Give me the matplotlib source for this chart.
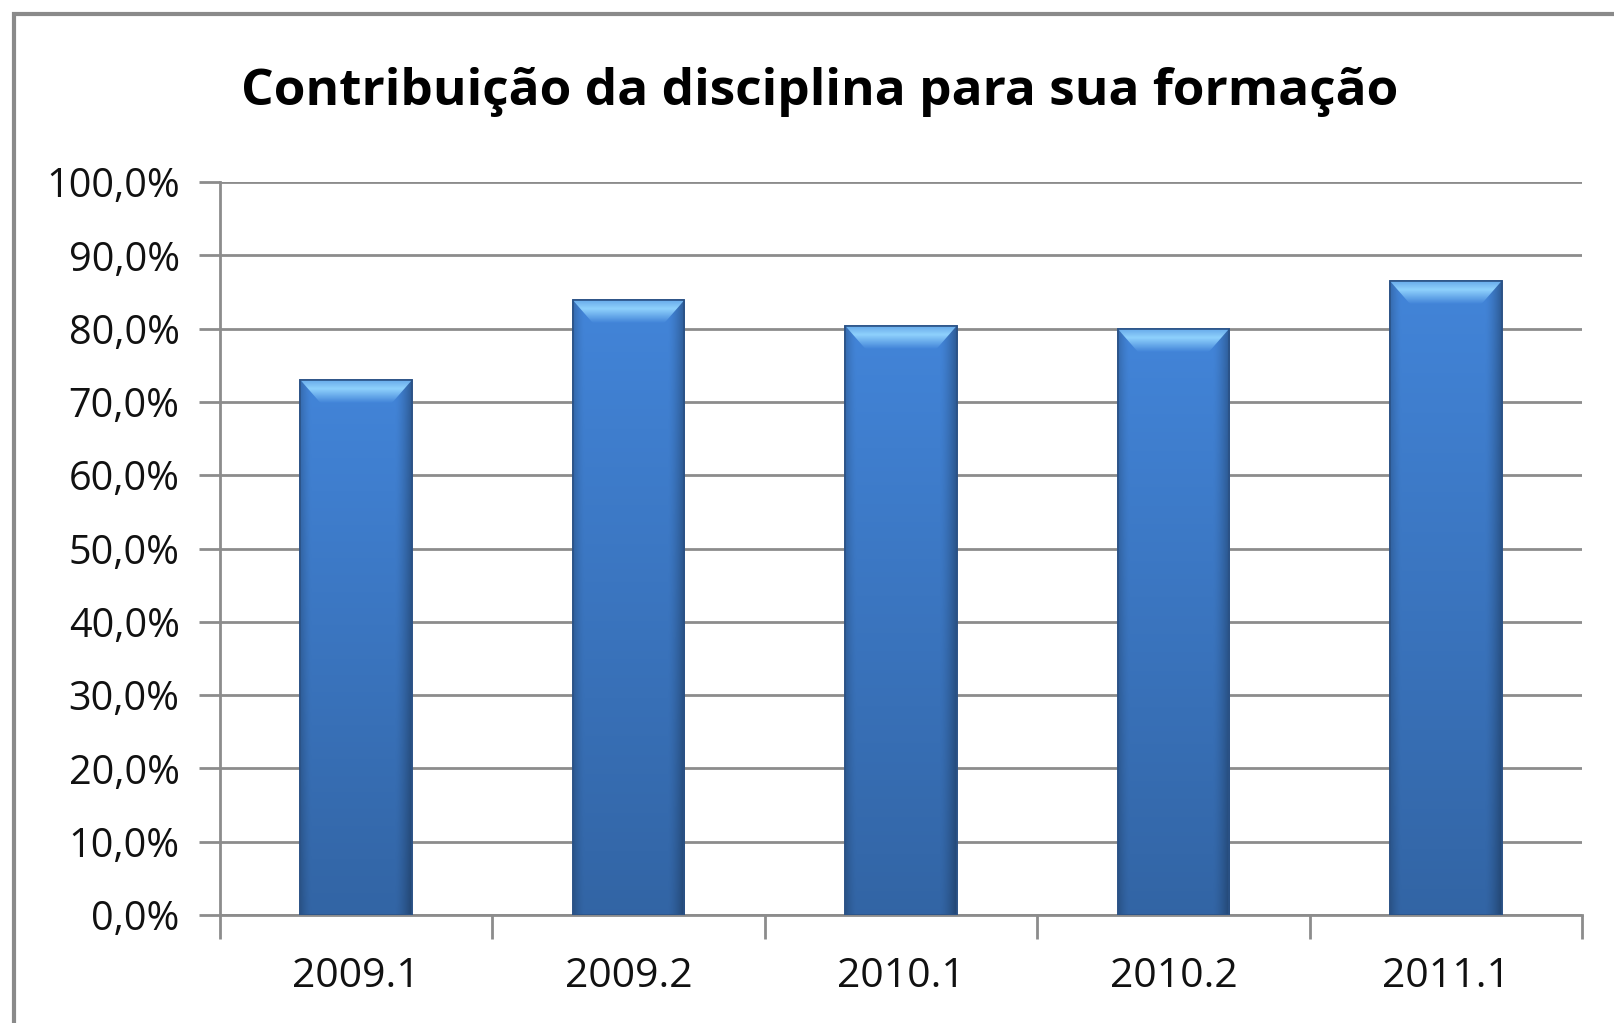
import numpy as np
import matplotlib.pyplot as plt
from matplotlib.patches import Polygon, Rectangle
from matplotlib.ticker import FixedLocator, FuncFormatter

semestres = ['2009.1', '2009.2', '2010.1', '2010.2', '2011.1']
contribuicao = [73.0, 83.9, 80.4, 80.0, 86.5]

titulo = 'Contribuição da disciplina para sua formação'

fig = plt.figure(figsize=(16.14, 10.23), dpi=100)
ax = fig.add_axes([220 / 1614, 1 - 915 / 1023, (1582 - 220) / 1614, (915 - 182) / 1023])

index = np.arange(len(semestres))
bar_width = 0.41
bars = ax.bar(index, contribuicao, bar_width, color='#3f7ccd',
              edgecolor='#2b5286', linewidth=1.2, zorder=3)

ax.set_xlim(-0.5, len(semestres) - 0.5)
ax.set_ylim(0, 100)

# gradient body for the bars
gx = np.linspace(0, 1, 80)
horiz = np.ones_like(gx)
horiz -= 0.30 * np.clip((gx - 0.85) / 0.15, 0, 1) ** 1.5
horiz -= 0.18 * np.clip((0.10 - gx) / 0.10, 0, 1) ** 1.5
vert = np.linspace(0.76, 1.0, 160)[:, None]
shade = horiz[None, :] * vert
base = np.array([0.26, 0.52, 0.85])
img = np.clip(base[None, None, :] * shade[:, :, None], 0, 1)

# bevel gradient (top light band)
bv = np.linspace(0, 1, 40)  # 0 = bottom of bevel, 1 = top edge
c_low = np.array([0.26, 0.52, 0.85])
c_hi = np.array([0.56, 0.82, 0.99])
prof = np.where(bv < 0.6, bv / 0.6, 1 - (bv - 0.6) / 0.4 * 0.55)
bev = c_low[None, :] + (c_hi - c_low)[None, :] * prof[:, None]
bev_img = np.repeat(bev[:, None, :], 4, axis=1)

bevel_dx = 0.075
bevel_dy = 3.2
for b in bars:
    x0, w, h = b.get_x(), b.get_width(), b.get_height()
    im = ax.imshow(img, extent=[x0, x0 + w, 0, h], origin='lower',
                   aspect='auto', zorder=3.1, interpolation='bilinear')
    im.set_clip_path(b)
    top = Polygon([[x0, h], [x0 + w, h], [x0 + w - bevel_dx, h - bevel_dy],
                   [x0 + bevel_dx, h - bevel_dy]], closed=True,
                  facecolor='none', edgecolor='none', zorder=3.2)
    ax.add_patch(top)
    im2 = ax.imshow(bev_img, extent=[x0, x0 + w, h - bevel_dy, h], origin='lower',
                    aspect='auto', zorder=3.2, interpolation='bilinear')
    im2.set_clip_path(top)
    ax.add_patch(Rectangle((x0, 0), w, h, fill=False, edgecolor='#2b5286',
                           linewidth=1.2, zorder=3.4))

ax.set_ylim(0, 100)
ax.set_xlim(-0.5, len(semestres) - 0.5)

# y axis
ax.set_yticks(np.arange(0, 101, 10))
ax.yaxis.set_major_formatter(FuncFormatter(lambda v, p: f'{v:.1f}%'.replace('.', ',')))
ax.yaxis.grid(True, color='#8c8c8c', linewidth=2.0, zorder=1)
ax.tick_params(axis='y', length=15, width=2, color='#8c8c8c', labelsize=28.5,
               pad=14, labelcolor='#111111')

# x axis: ticks at boundaries, labels at centres
ax.xaxis.set_major_locator(FixedLocator(np.arange(-0.5, len(semestres), 1.0)))
ax.xaxis.set_major_formatter(FuncFormatter(lambda v, p: ''))
ax.xaxis.set_minor_locator(FixedLocator(index))
ax.set_xticklabels(semestres, minor=True)
ax.tick_params(axis='x', which='major', length=17, width=2, color='#8c8c8c')
ax.tick_params(axis='x', which='minor', length=0, labelsize=29.5, pad=30,
               labelcolor='#111111')

for s in ['top', 'right']:
    ax.spines[s].set_visible(False)
for s in ['left', 'bottom']:
    ax.spines[s].set_color('#8c8c8c')
    ax.spines[s].set_linewidth(2)
ax.set_axisbelow(True)

for lab in ax.get_yticklabels() + ax.get_xticklabels(minor=True):
    lab.set_family('Open Sans')

fig.text(820 / 1614, 1 - 92 / 1023, titulo, ha='center', va='center',
         fontsize=37, fontweight='bold', family='Open Sans', color='#000000')

# chart frame (only top and left edges visible in the crop)
fig.patches.append(Rectangle((14 / 1614, -0.1), 1.2, 1.1 - 14 / 1023,
                             transform=fig.transFigure, fill=False,
                             edgecolor='#8a8a8a', linewidth=3))

fig.savefig('out.png', dpi=100)
